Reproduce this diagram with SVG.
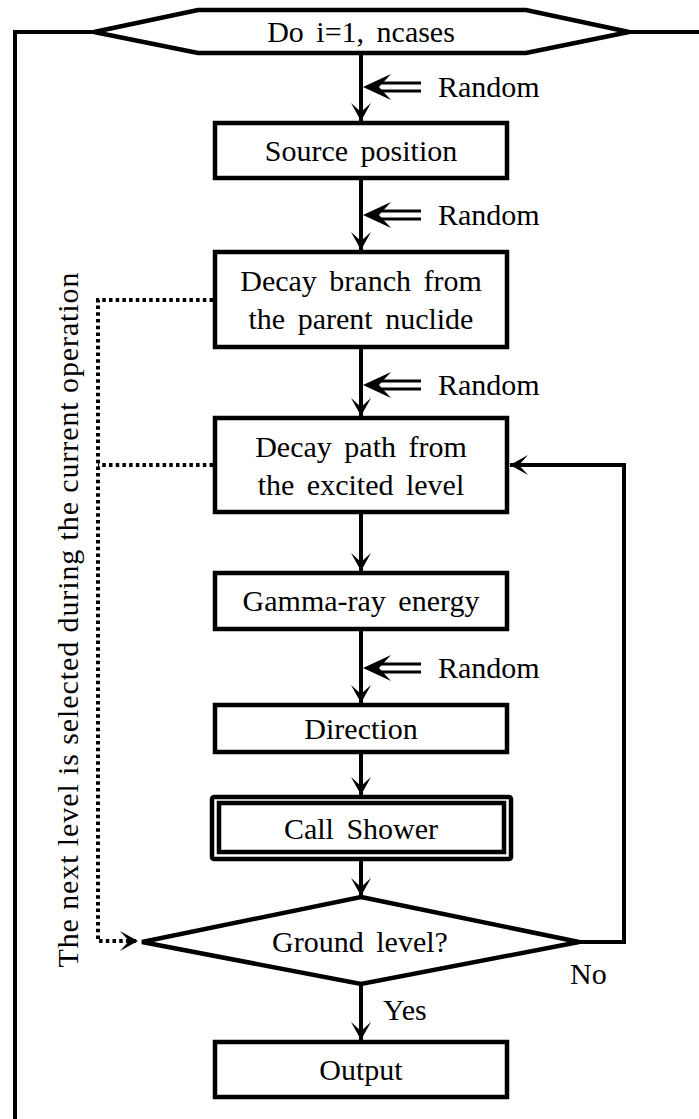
<svg xmlns="http://www.w3.org/2000/svg" width="699" height="1119" viewBox="0 0 699 1119">
<style>
text{font-family:"Liberation Serif","Times New Roman",serif;font-size:30px;fill:#000}
.c{text-anchor:middle;word-spacing:5px}
.box{fill:#fff;stroke:#000;stroke-width:4.5}
.ln{fill:none;stroke:#000;stroke-width:4}
.dot{fill:none;stroke:#000;stroke-width:4;stroke-dasharray:3.5 3.2}
.dbl{fill:none;stroke:#000;stroke-width:2.8}
</style>
<defs>
<marker id="ah" markerUnits="userSpaceOnUse" viewBox="-20 -11 22 22" markerWidth="22" markerHeight="22" refX="0" refY="0" orient="auto">
<path d="M0,0 L-18,-10 L-9,0 L-18,10 Z" fill="#000"/>
</marker>
</defs>
<g id="connectors">
<polyline class="ln" points="94,32 15,32 15,1119"/>
<line class="ln" x1="629" y1="32" x2="699" y2="32"/>
<line class="ln" x1="361" y1="52" x2="361" y2="121" marker-end="url(#ah)"/>
<line class="ln" x1="361" y1="178" x2="361" y2="250" marker-end="url(#ah)"/>
<line class="ln" x1="361" y1="347" x2="361" y2="416" marker-end="url(#ah)"/>
<line class="ln" x1="361" y1="512" x2="361" y2="571" marker-end="url(#ah)"/>
<line class="ln" x1="361" y1="629" x2="361" y2="703" marker-end="url(#ah)"/>
<line class="ln" x1="361" y1="752" x2="361" y2="795" marker-end="url(#ah)"/>
<line class="ln" x1="361" y1="859" x2="361" y2="896" marker-end="url(#ah)"/>
<line class="ln" x1="361" y1="984" x2="361" y2="1040" marker-end="url(#ah)"/>
<polyline class="ln" points="579,942 624,942 624,465 510,465" marker-end="url(#ah)"/>
<polyline class="dot" points="213,300 98,300 98,941 138,941" marker-end="url(#ah)"/>
<polyline class="dot" points="213,465 98,465"/>
<g id="random-arrows">
<g transform="translate(0,87)"><path class="dbl" d="M421,-4 L380,-4 M421,4 L380,4"/><path d="M363,0 L391,-13 L379,0 L391,13 Z"/></g>
<g transform="translate(0,215)"><path class="dbl" d="M421,-4 L380,-4 M421,4 L380,4"/><path d="M363,0 L391,-13 L379,0 L391,13 Z"/></g>
<g transform="translate(0,385)"><path class="dbl" d="M421,-4 L380,-4 M421,4 L380,4"/><path d="M363,0 L391,-13 L379,0 L391,13 Z"/></g>
<g transform="translate(0,668)"><path class="dbl" d="M421,-4 L380,-4 M421,4 L380,4"/><path d="M363,0 L391,-13 L379,0 L391,13 Z"/></g>
</g>
</g>
<g id="labels">
<text x="438" y="97">Random</text>
<text x="438" y="225">Random</text>
<text x="438" y="395">Random</text>
<text x="438" y="678">Random</text>
<text x="570" y="984">No</text>
<text x="383" y="1020">Yes</text>
<text transform="translate(78,620) rotate(-90)" text-anchor="middle" textLength="695" lengthAdjust="spacing">The next level is selected during the current operation</text>
</g>
<g id="n-loop"><polygon class="box" points="94,32 198,10 526,10 629,32 526,53 198,53"/><text class="c" x="361" y="42">Do i=1, ncases</text></g>
<g id="n-source"><rect class="box" x="215" y="123" width="292" height="55"/><text class="c" x="361" y="161">Source position</text></g>
<g id="n-branch"><rect class="box" x="215" y="252" width="292" height="95"/><text class="c" x="361" y="291">Decay branch from</text><text class="c" x="361" y="329">the parent nuclide</text></g>
<g id="n-path"><rect class="box" x="215" y="418" width="292" height="94"/><text class="c" x="361" y="457">Decay path from</text><text class="c" x="361" y="495">the excited level</text></g>
<g id="n-gamma"><rect class="box" x="215" y="573" width="292" height="56"/><text class="c" x="361" y="611">Gamma-ray energy</text></g>
<g id="n-direction"><rect class="box" x="215" y="705" width="292" height="47"/><text class="c" x="361" y="739">Direction</text></g>
<g id="n-shower"><rect class="box" x="212" y="797" width="299" height="62" rx="2"/><rect class="box" x="219" y="803" width="285" height="49"/><text class="c" x="361" y="839">Call Shower</text></g>
<g id="n-ground"><polygon class="box" points="361,897 579,942 361,984 142,942"/><text class="c" x="360" y="952">Ground level?</text></g>
<g id="n-output"><rect class="box" x="215" y="1042" width="292" height="55"/><text class="c" x="361" y="1080">Output</text></g>
</svg>
